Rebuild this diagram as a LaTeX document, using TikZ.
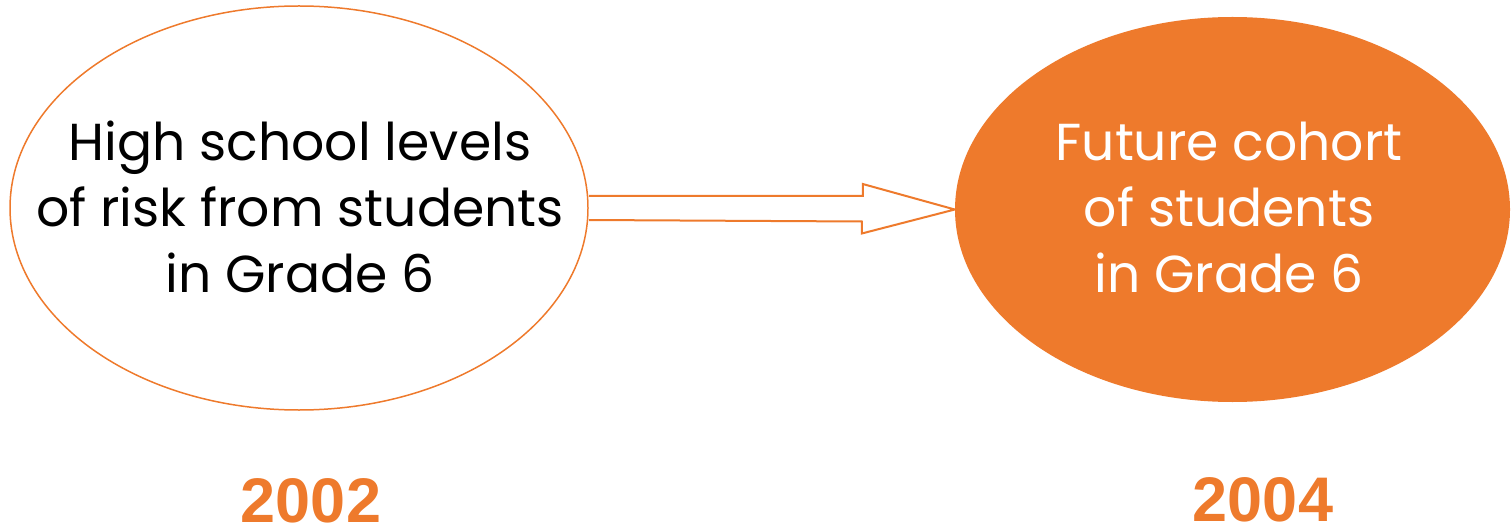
\documentclass[tikz,border=0pt]{standalone}
\usepackage{fontspec}
\setmainfont{Poppins}
\newfontfamily\yearfont{Liberation Sans}
\usetikzlibrary{shapes.geometric,calc}
\definecolor{cohortorange}{HTML}{EE7A2C}
\tikzset{
  bubble/.style={ellipse, inner sep=0pt},
  bubbletext/.style={inner sep=0pt, align=center, font=\fontsize{52}{66}\selectfont},
  year/.style={inner sep=0pt, text=cohortorange, font=\yearfont\bfseries\fontsize{63}{63}\selectfont}
}
\begin{document}
\begin{tikzpicture}[x=1pt, y=-1pt, line join=miter]
  \useasboundingbox (0,0) rectangle (1511,529);
  \node[bubble, draw=cohortorange, line width=1.5pt, minimum width=578pt, minimum height=404pt] (risk) at (299,208) {};
  \node[bubbletext] (risktext) at (300,207) {High school levels\\of risk from students\\in Grade 6};
  \node[bubble, fill=cohortorange, minimum width=555pt, minimum height=385pt] (cohort) at (1232.5,209.5) {};
  \node[bubbletext, text=white] (cohorttext) at (1229,207) {Future cohort\\of students\\in Grade 6};
  % hollow block arrow between the two years
  \draw[cohortorange, line width=2pt, fill=white] ($(risk.east)+(0,-12)$) -- ++(274,0) -- ++(0,-12) -- (cohort.west) -- ++(-93,24) -- ++(0,-12) -- ($(risk.east)+(0,12)$);
  \node[year, anchor=base] (y2002) at (311,522) {2002};
  \node[year, anchor=base] (y2004) at (1263,521) {2004};
\end{tikzpicture}
\end{document}
